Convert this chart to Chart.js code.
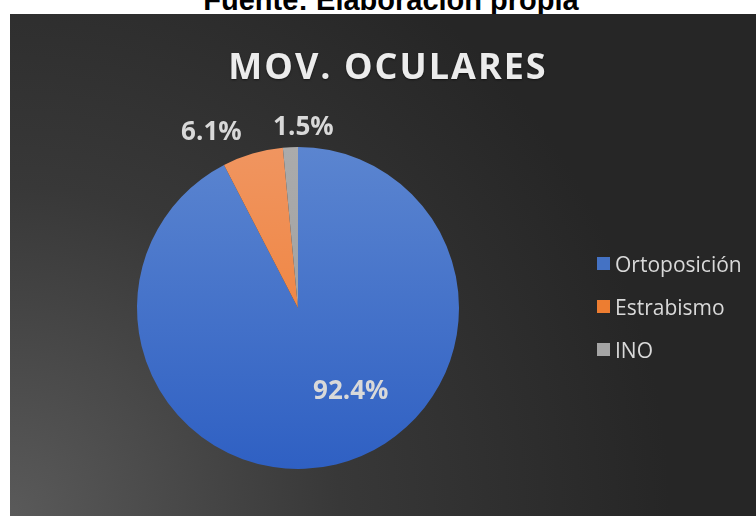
<!DOCTYPE html>
<html>
<head>
<meta charset="utf-8">
<script src="https://cdn.jsdelivr.net/npm/chart.js@4/dist/chart.umd.min.js"></script>
<style>
  body { margin: 0; background: #fff; width: 756px; height: 516px; overflow: hidden; position: relative; }
  #fuente { position: absolute; left: 0; width: 782px; top: -16px; line-height: 29px; text-align: center;
    font: bold 29px "Liberation Sans", Arial, sans-serif; color: #000; }
  #panel { position: absolute; left: 10px; top: 14px; width: 746px; height: 502px; }
  #title { position: absolute; left: 0; width: 776px; top: 41px; text-align: center;
    font: bold 36px "Open Sans", sans-serif; letter-spacing: 2px; color: #ececec; pointer-events: none;
    text-shadow: 0 1px 2px rgba(0,0,0,0.5); }
  #legend { position: absolute; left: 597px; top: 242px; font: 21px "Open Sans", sans-serif; color: #d9d9d9; }
  #legend div { height: 43px; display: flex; align-items: center; }
  #legend span.box { width: 13px; height: 13px; margin-right: 5px; display: inline-block; }
</style>
</head>
<body>
<div id="fuente">Fuente: Elaboración propia</div>
<div id="panel"><canvas id="chart" width="746" height="502"></canvas></div>
<div id="title">MOV. OCULARES</div>
<div id="legend"></div>
<script>
const labels = ['Ortoposición', 'Estrabismo', 'INO'];
const values = [92.4, 6.1, 1.5];
const valueLabels = ['92.4%', '6.1%', '1.5%'];
const topColors = ['#5b85d0', '#f09560', '#ababab'];
const bottomColors = ['#2f60c3', '#f07a2c', '#9a9a9a'];
const legendColors = ['#4472c4', '#ed7d31', '#a5a5a5'];

// legend
const legendEl = document.getElementById('legend');
labels.forEach((l, i) => {
  const row = document.createElement('div');
  row.innerHTML = '<span class="box" style="background:' + legendColors[i] + '"></span>' + l;
  legendEl.appendChild(row);
});

const bgPlugin = {
  id: 'bg',
  beforeDraw(chart) {
    const ctx = chart.ctx;
    const w = chart.width, h = chart.height;
    const g = ctx.createRadialGradient(0, h, 0, 0, h, 660);
    g.addColorStop(0, '#5a5a5a');
    g.addColorStop(0.5, '#383838');
    g.addColorStop(1, '#262626');
    ctx.save();
    ctx.fillStyle = g;
    ctx.fillRect(0, 0, w, h);
    ctx.restore();
  }
};

const labelPlugin = {
  id: 'sliceLabels',
  afterDatasetsDraw(chart) {
    const ctx = chart.ctx;
    const meta = chart.getDatasetMeta(0);
    ctx.save();
    ctx.font = 'bold 26px "Open Sans", sans-serif';
    ctx.fillStyle = '#d9d9d9';
    ctx.textAlign = 'center';
    ctx.textBaseline = 'middle';
    meta.data.forEach((arc, i) => {
      const p = arc.getProps(['x', 'y', 'startAngle', 'endAngle', 'outerRadius'], true);
      const mid = (p.startAngle + p.endAngle) / 2;
      let r;
      if (values[i] > 50) r = p.outerRadius * 0.52;
      else r = p.outerRadius + 22;
      let x = p.x + Math.cos(mid) * r;
      let y = p.y + Math.sin(mid) * r;
      if (i === 0) { x += 33; y += 2; }
      if (i === 1) { x -= 35; }
      if (i === 2) { x += 14; y += 2; }
      ctx.fillText(valueLabels[i], x, y);
    });
    ctx.restore();
  }
};

new Chart(document.getElementById('chart'), {
  type: 'pie',
  data: {
    labels: labels,
    datasets: [{
      data: values,
      borderWidth: 0,
      backgroundColor(c) {
        const area = c.chart.chartArea;
        if (!area) return legendColors[c.dataIndex];
        const g = c.chart.ctx.createLinearGradient(0, area.top, 0, area.bottom);
        g.addColorStop(0, topColors[c.dataIndex]);
        g.addColorStop(1, bottomColors[c.dataIndex]);
        return g;
      }
    }]
  },
  options: {
    responsive: false,
    animation: false,
    layout: { padding: { left: 127, top: 133, right: 297, bottom: 47 } },
    plugins: {
      legend: { display: false },
      tooltip: { enabled: false }
    }
  },
  plugins: [bgPlugin, labelPlugin]
});
</script>
</body>
</html>
